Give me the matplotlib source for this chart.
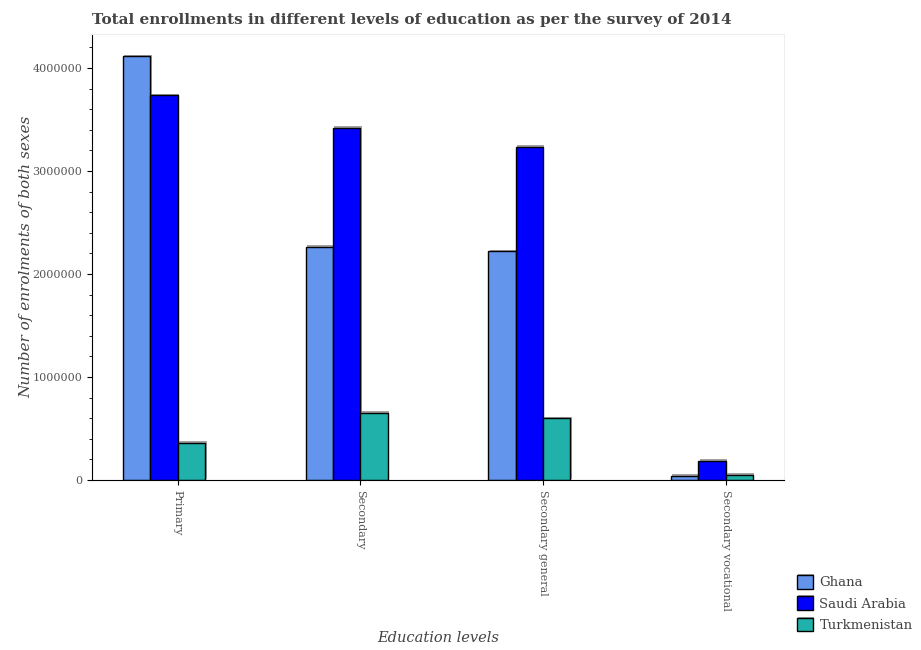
import numpy as np
import matplotlib
matplotlib.use('Agg')
from matplotlib import pyplot as plt
from matplotlib.ticker import MultipleLocator
import matplotlib.patheffects as pe

levels = ['Primary', 'Secondary', 'Secondary general', 'Secondary vocational']
countries = ['Ghana', 'Saudi Arabia', 'Turkmenistan']
ghana = [4117000, 2265000, 2223000, 42000]
saudi = [3737000, 3420000, 3235000, 186000]
turkmenistan = [362000, 652000, 600000, 51000]
colors = ['#6495ed', '#0000ff', '#20b2aa']

plt.rcParams['font.family'] = 'DejaVu Serif'

fig = plt.figure(figsize=(9.21, 6.5), dpi=100)
ax = fig.add_axes([0.0999, 0.2615, 0.7513, 0.6862])

x = np.arange(len(levels))
w = 0.15
shadow = [pe.SimplePatchShadow(offset=(1, 1), shadow_rgbFace='#999999', alpha=0.9), pe.Normal()]
for k, vals in enumerate([ghana, saudi, turkmenistan]):
    bars = ax.bar(x + (k - 2) * w, vals, w, align='edge', color=colors[k],
                  edgecolor='black', linewidth=1, label=countries[k])
    for b in bars:
        b.set_path_effects(shadow)

ax.set_xlim(-0.47, 3.32)
ax.set_ylim(0, 4330000)
ax.set_xticks(x)
ax.set_xticklabels(levels, rotation=-90, fontsize=8, color='#555555')
ax.yaxis.set_major_locator(MultipleLocator(1000000))
ax.yaxis.set_minor_locator(MultipleLocator(200000))
ax.tick_params(axis='y', labelsize=8, labelcolor='#555555')
ax.ticklabel_format(axis='y', style='plain')

for s in ['top', 'right']:
    ax.spines[s].set_color('#eeeeee')
for s in ['left', 'bottom']:
    ax.spines[s].set_color('black')

ax.set_xlabel('Education levels', fontsize=10.5, style='italic', color='#444444')
ax.xaxis.set_label_coords(0.5, -0.338)
ax.set_ylabel('Number of enrolments of both sexes', fontsize=11, style='italic', color='#444444')
ax.yaxis.set_label_coords(-0.085, 0.5)
ax.set_title('Total enrollments in different levels of education as per the survey of 2014',
             fontsize=11, fontweight='bold', color='#444444', loc='left', pad=7)

fig.legend(loc='upper left', bbox_to_anchor=(797 / 921, 1 - 575 / 650), frameon=False,
           fontsize=9.5, labelcolor='#444444', handlelength=1.2, handleheight=1.2,
           handletextpad=0.5, labelspacing=0.55, borderpad=0, borderaxespad=0)

plt.savefig('out.png')
